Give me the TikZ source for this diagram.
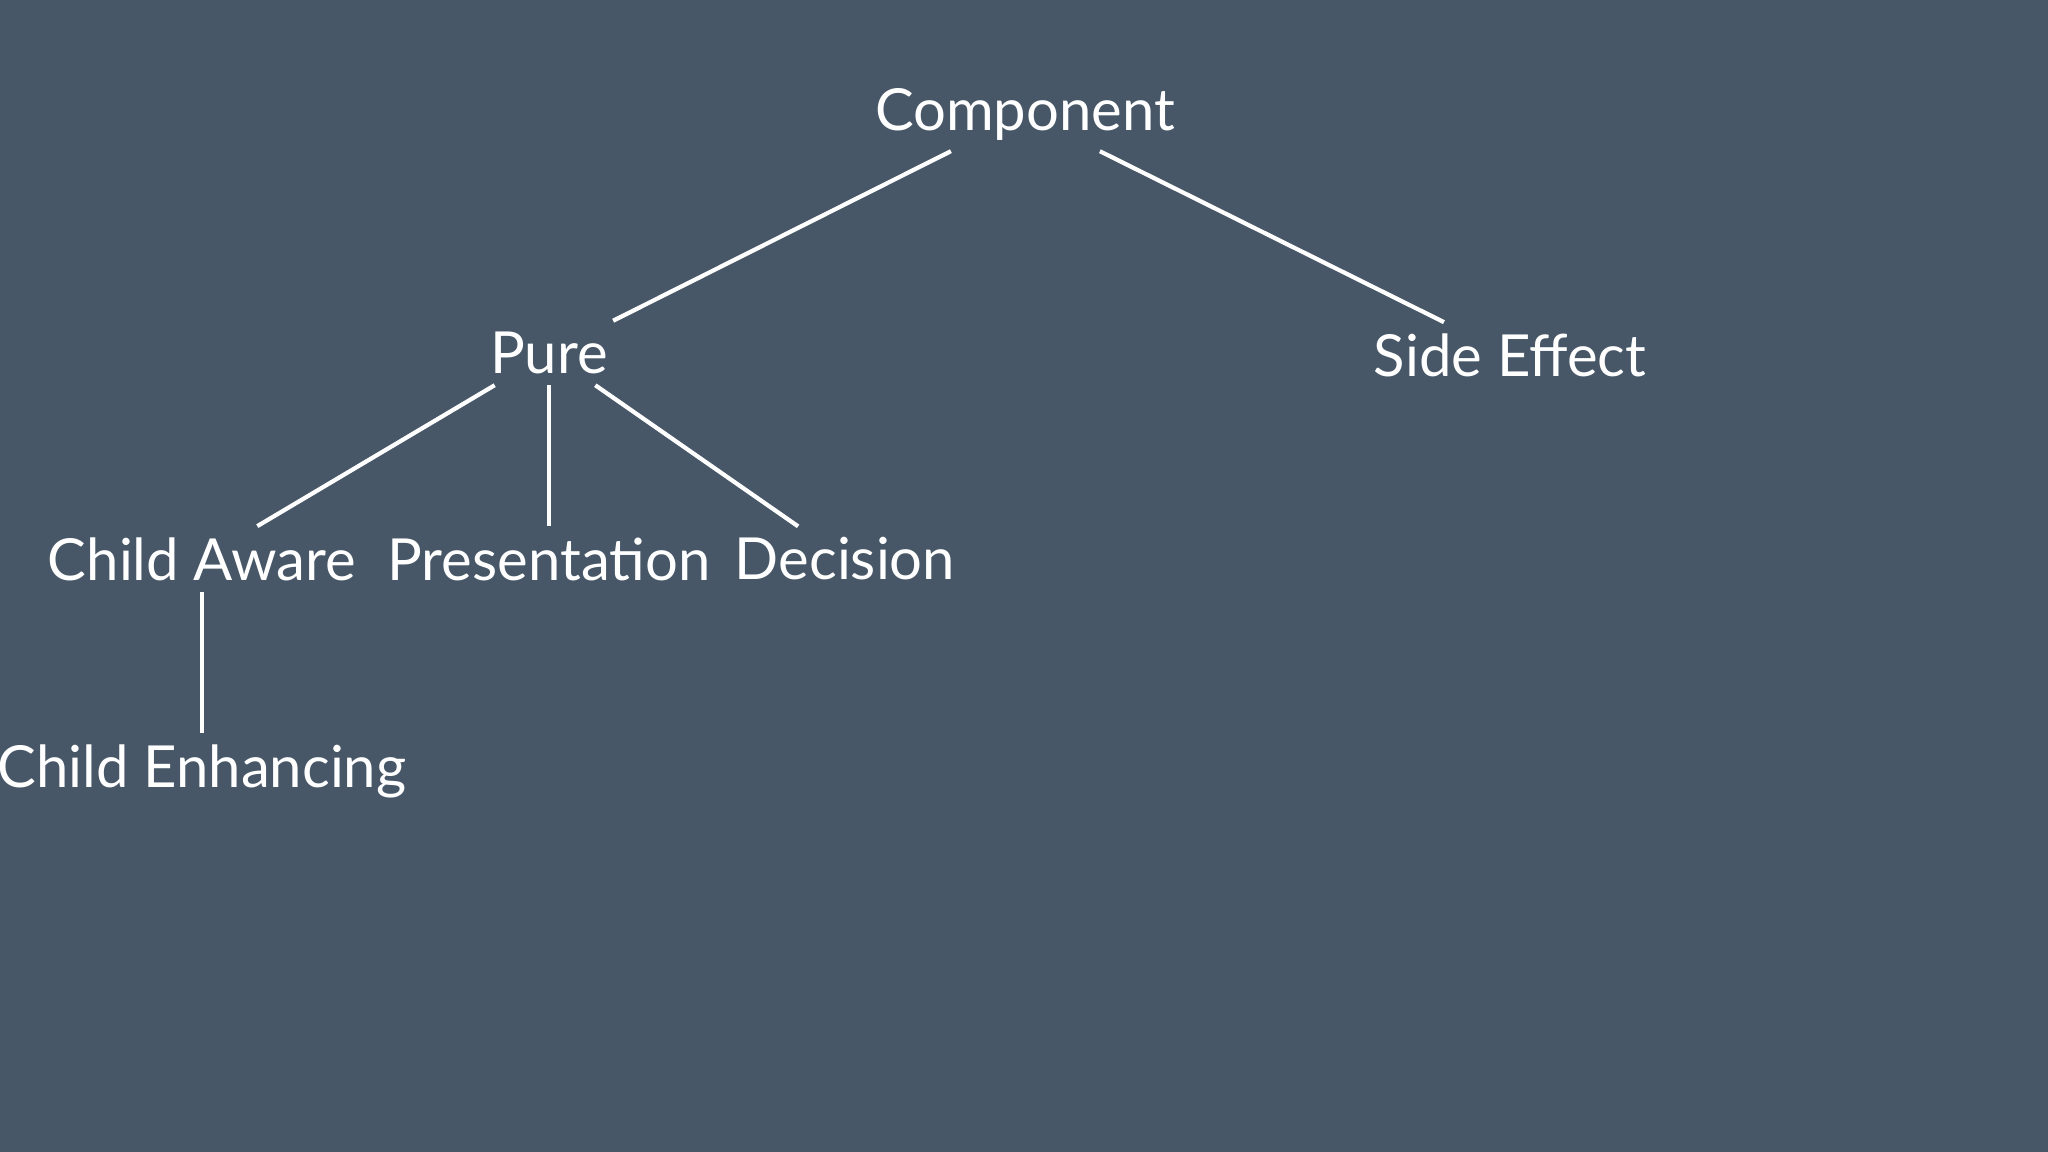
\documentclass[tikz,border=0pt]{standalone}
\usepackage{fontspec}
\setmainfont{Lato}
\usetikzlibrary{positioning}
\definecolor{slate}{HTML}{475767}
\tikzstyle{lbl}=[text=white, font=\fontsize{16.5}{18}\selectfont, inner xsep=2pt, inner ysep=3pt]
\tikzstyle{tline}=[-, white, line width=1.2pt]

\begin{document}
\begin{tikzpicture}
\fill[slate] (0,0) rectangle (20.48,11.52);
\useasboundingbox (0,0) rectangle (20.48,11.52);

\node (COMP) [lbl] at (10.25,10.38) {Component};
\node (PURE) [lbl] at (5.49,7.99) {Pure};
\node (SIDE) [lbl] at (15.10,7.97) {Side Effect};
\node (CAWARE) [lbl] at (2.02,5.93) {Child Aware};
\node (PRES) [lbl] at (5.49,5.93) {Presentation};
\node (DECI) [lbl] at (8.45,5.93) {Decision};
\node (CENH) [lbl] at (2.02,3.81) {Child Enhancing};

\draw[tline] (COMP) -- (PURE);
\draw[tline] (COMP) -- (SIDE);
\draw[tline] (PURE) -- (CAWARE);
\draw[tline] (PURE) -- (PRES);
\draw[tline] (PURE) -- (DECI);
\draw[tline] (CAWARE) -- (CENH);

\end{tikzpicture}
\end{document}
